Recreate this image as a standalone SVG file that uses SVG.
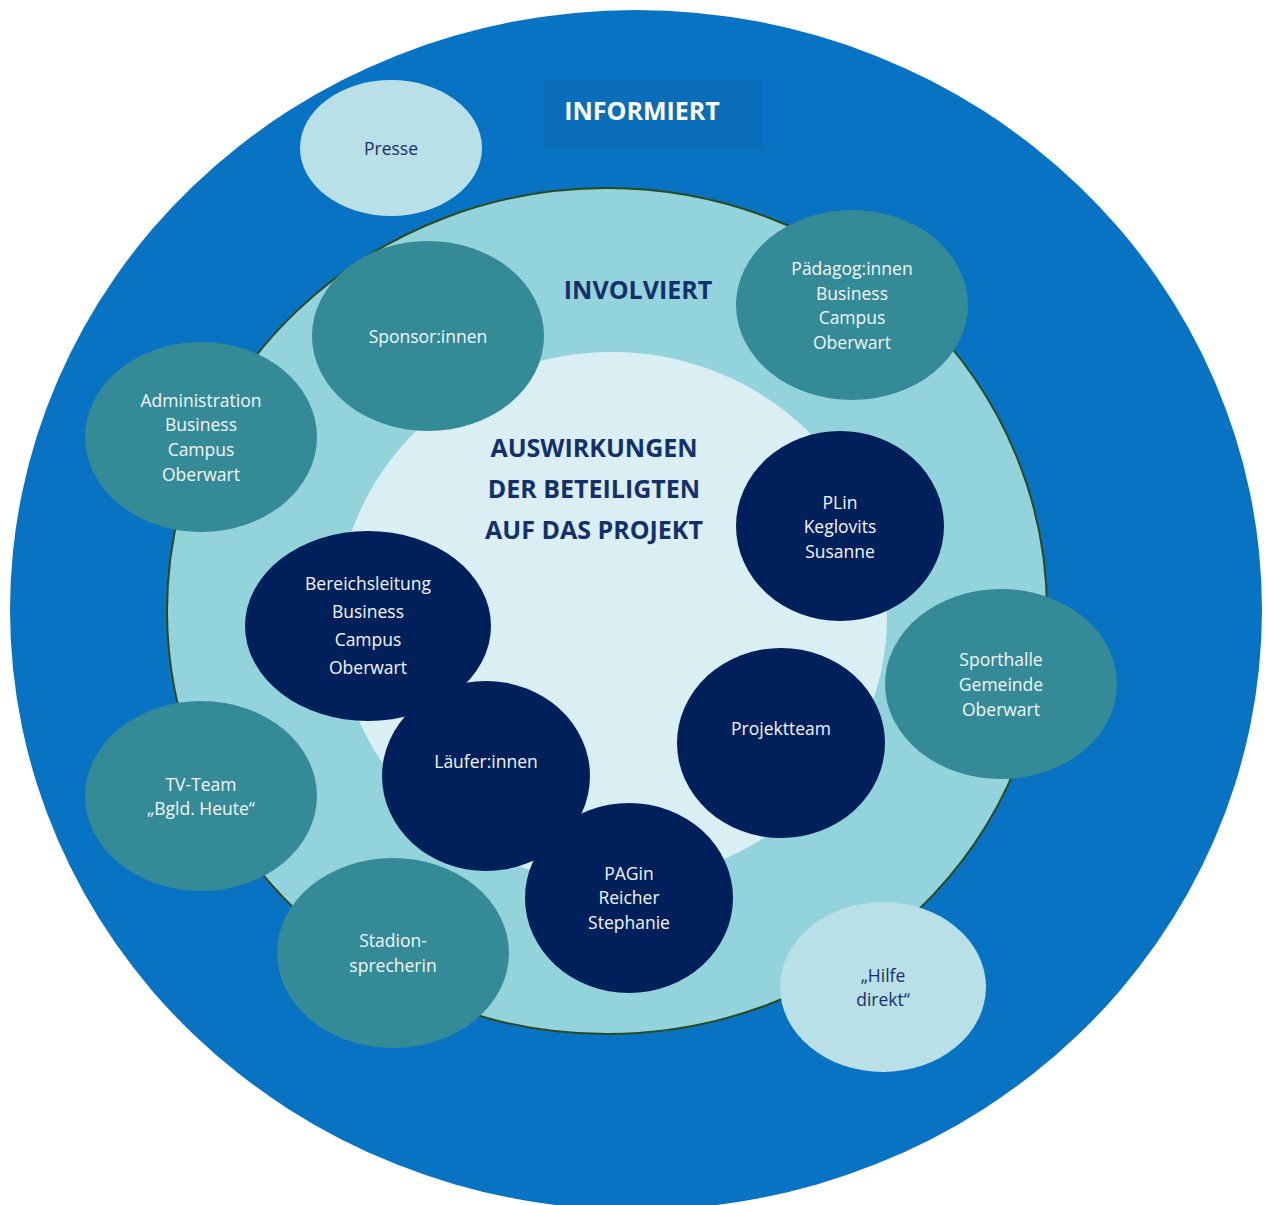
<svg xmlns="http://www.w3.org/2000/svg" width="1267" height="1205" viewBox="0 0 1267 1205">
<style>
.teal{fill:#348b97}
.navy{fill:#00205c}
.light{fill:#b8e0e6}
text{font-family:"Open Sans","Liberation Sans",sans-serif;font-size:17.5px;text-anchor:middle;dominant-baseline:central}
.w{fill:#f2f6f8}
.d{fill:#1a2f6b}
.h{font-weight:bold;font-size:25px}
</style>
<rect width="1267" height="1205" fill="#ffffff"/>
<g id="informiert">
<ellipse cx="636" cy="610" rx="626" ry="600" fill="#0873c2"/>
<rect x="543" y="80" width="219" height="70" fill="#0a6dba"/>
<text x="642" y="110" class="h" fill="#ffffff">INFORMIERT</text>
</g>
<g id="involviert">
<ellipse cx="607" cy="611" rx="440" ry="423" fill="#93d3dc" stroke="#2c4a1c" stroke-width="2"/>
<text x="638" y="289" class="h" fill="#14306b">INVOLVIERT</text>
</g>
<g id="auswirkungen">
<ellipse cx="612" cy="617" rx="275" ry="265" fill="#d9eff3"/>
<text x="594" y="447" class="h" fill="#14306b">AUSWIRKUNGEN</text>
<text x="594" y="488" class="h" fill="#14306b">DER BETEILIGTEN</text>
<text x="594" y="529" class="h" fill="#14306b">AUF DAS PROJEKT</text>
</g>
<g id="presse"><ellipse class="light" cx="391" cy="148" rx="91" ry="68"/><text class="d" x="391" y="148">Presse</text></g>
<g id="sponsor"><ellipse class="teal" cx="428" cy="336" rx="116" ry="95"/><text class="w" x="428" y="336">Sponsor:innen</text></g>
<g id="paedagog"><ellipse class="teal" cx="852" cy="305" rx="116" ry="95"/>
<text class="w" x="852" y="268">Pädagog:innen</text><text class="w" x="852" y="293">Business</text><text class="w" x="852" y="317">Campus</text><text class="w" x="852" y="342">Oberwart</text></g>
<g id="administration"><ellipse class="teal" cx="201" cy="437" rx="116" ry="95"/>
<text class="w" x="201" y="400">Administration</text><text class="w" x="201" y="424">Business</text><text class="w" x="201" y="449">Campus</text><text class="w" x="201" y="474">Oberwart</text></g>
<g id="plin"><ellipse class="navy" cx="840" cy="526" rx="104" ry="95"/>
<text class="w" x="840" y="502">PLin</text><text class="w" x="840" y="526">Keglovits</text><text class="w" x="840" y="551">Susanne</text></g>
<g id="bereichsleitung"><ellipse class="navy" cx="368" cy="626" rx="123" ry="95"/>
<text class="w" x="368" y="583">Bereichsleitung</text><text class="w" x="368" y="611">Business</text><text class="w" x="368" y="639">Campus</text><text class="w" x="368" y="667">Oberwart</text></g>
<g id="laeufer"><ellipse class="navy" cx="486" cy="776" rx="104" ry="95"/><text class="w" x="486" y="761">Läufer:innen</text></g>
<g id="projektteam"><ellipse class="navy" cx="781" cy="743" rx="104" ry="95"/><text class="w" x="781" y="728">Projektteam</text></g>
<g id="sporthalle"><ellipse class="teal" cx="1001" cy="684" rx="116" ry="95"/>
<text class="w" x="1001" y="659">Sporthalle</text><text class="w" x="1001" y="684">Gemeinde</text><text class="w" x="1001" y="709">Oberwart</text></g>
<g id="tvteam"><ellipse class="teal" cx="201" cy="796" rx="116" ry="95"/>
<text class="w" x="201" y="784">TV-Team</text><text class="w" x="201" y="808">„Bgld. Heute“</text></g>
<g id="stadion"><ellipse class="teal" cx="393" cy="953" rx="116" ry="95"/>
<text class="w" x="393" y="940">Stadion-</text><text class="w" x="393" y="965">sprecherin</text></g>
<g id="pagin"><ellipse class="navy" cx="629" cy="898" rx="104" ry="95"/>
<text class="w" x="629" y="873">PAGin</text><text class="w" x="629" y="897">Reicher</text><text class="w" x="629" y="922">Stephanie</text></g>
<g id="hilfe"><ellipse class="light" cx="883" cy="987" rx="103" ry="85"/>
<text class="d" x="883" y="975">„Hilfe</text><text class="d" x="883" y="999">direkt“</text></g>
<g id="connectors"/>
</svg>
